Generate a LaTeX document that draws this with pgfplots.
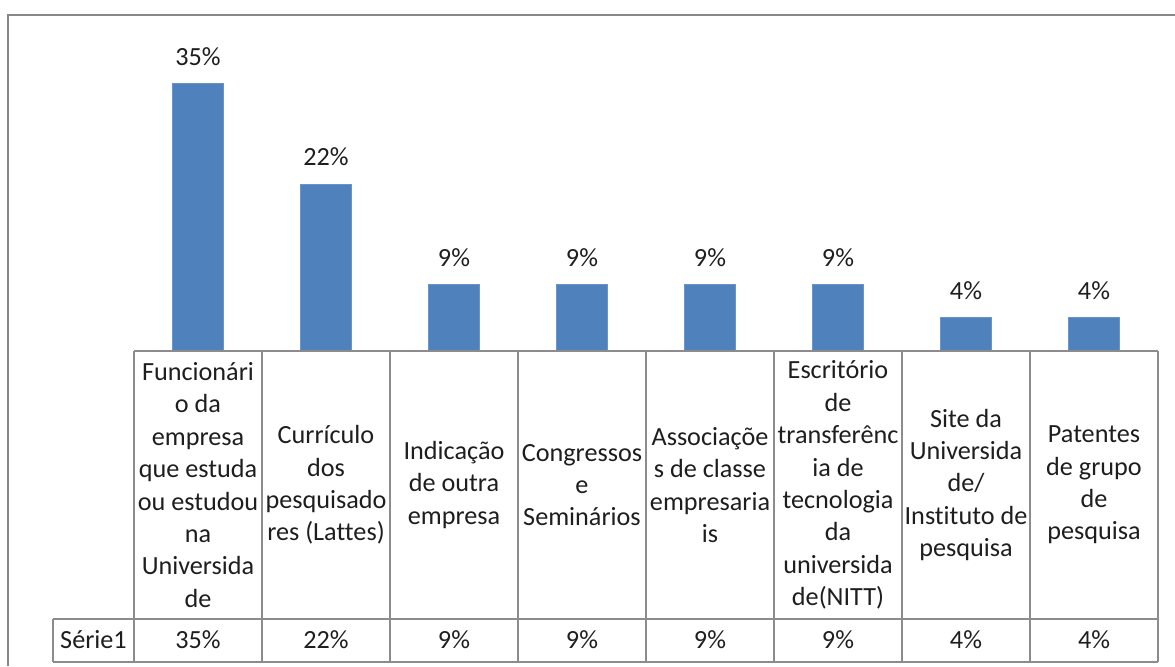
\documentclass[border=0pt]{standalone}
\usepackage{pgfplots}
\pgfplotsset{compat=1.18}
\usepackage{fontspec}
\setmainfont{Carlito}[Ligatures=NoCommon]
\definecolor{barblue}{HTML}{4F81BD}
\definecolor{gridgray}{HTML}{8C8C8C}
\definecolor{framegray}{HTML}{878787}
\definecolor{txt}{HTML}{1E1E1E}
\begin{document}
\fontsize{13.1}{16.2}\selectfont
\begin{tikzpicture}
\begin{axis}[
  x=64pt, y=3.841pt,
  xmin=-0.5, xmax=7.5, ymin=0, ymax=40,
  axis line style={draw=none},
  major tick length=0pt,
  ytick=\empty,
  xtick={0,...,7},
  xticklabels={
    {Funcionári\\o da\\empresa\\que estuda\\ou estudou\\na\\Universida\\de},
    {Currículo\\dos\\pesquisado\\res (Lattes)},
    {Indicação\\de outra\\empresa},
    {Congressos\\e\\Seminários},
    {Associaçõe\\s de classe\\empresaria\\is},
    {Escritório\\de\\transferênc\\ia de\\tecnologia\\da\\universida\\de(NITT)},
    {Site da\\Universida\\de/\\Instituto de\\pesquisa},
    {Patentes\\de grupo\\de\\pesquisa}},
  xticklabel style={anchor=center, yshift=-67pt, align=center, text=txt,
    font=\fontsize{13.1}{16.2}\selectfont, inner sep=0pt},
  clip=false,
  ybar, bar width=25.5pt,
  nodes near coords, point meta=explicit symbolic,
  every node near coord/.append style={anchor=center, yshift=13.5pt, text=txt,
    font=\fontsize{13.1}{16.2}\selectfont},
]
\addplot[fill=barblue, draw=barblue!85!white, line width=0.4pt] coordinates {
  (0,34.78) [35\%]
  (1,21.74) [22\%]
  (2,8.70) [9\%]
  (3,8.70) [9\%]
  (4,8.70) [9\%]
  (5,8.70) [9\%]
  (6,4.35) [4\%]
  (7,4.35) [4\%]
};
\coordinate (O) at (axis cs:-0.5,0);
\end{axis}
\begin{scope}[shift={(O)}, x=1pt, y=1pt]
  \draw[gridgray, line width=0.75pt] (0,0) -- (512,0);
  \foreach \i in {0,...,8} \draw[gridgray, line width=0.75pt] (64*\i,0) -- (64*\i,-155.5);
  \draw[gridgray, line width=0.75pt] (-40.5,-134) -- (512,-134);
  \draw[gridgray, line width=0.75pt] (-40.5,-155.5) -- (512,-155.5);
  \draw[gridgray, line width=0.75pt] (-40.5,-134) -- (-40.5,-155.5);
  \node[text=txt, inner sep=0pt] at (-20.25,-144.5) {Série1};
  \foreach \v [count=\i from 0] in {35,22,9,9,9,9,4,4}
    \node[text=txt, inner sep=0pt] at (64*\i+32,-144.5) {\v\%};
  \draw[framegray, line width=1pt] (-63,-157.5) -- (-63,168) -- (520.5,168);
  \pgfresetboundingbox
  \useasboundingbox (-67,-157.5) rectangle (520.5,175.5);
\end{scope}
\end{tikzpicture}
\end{document}
